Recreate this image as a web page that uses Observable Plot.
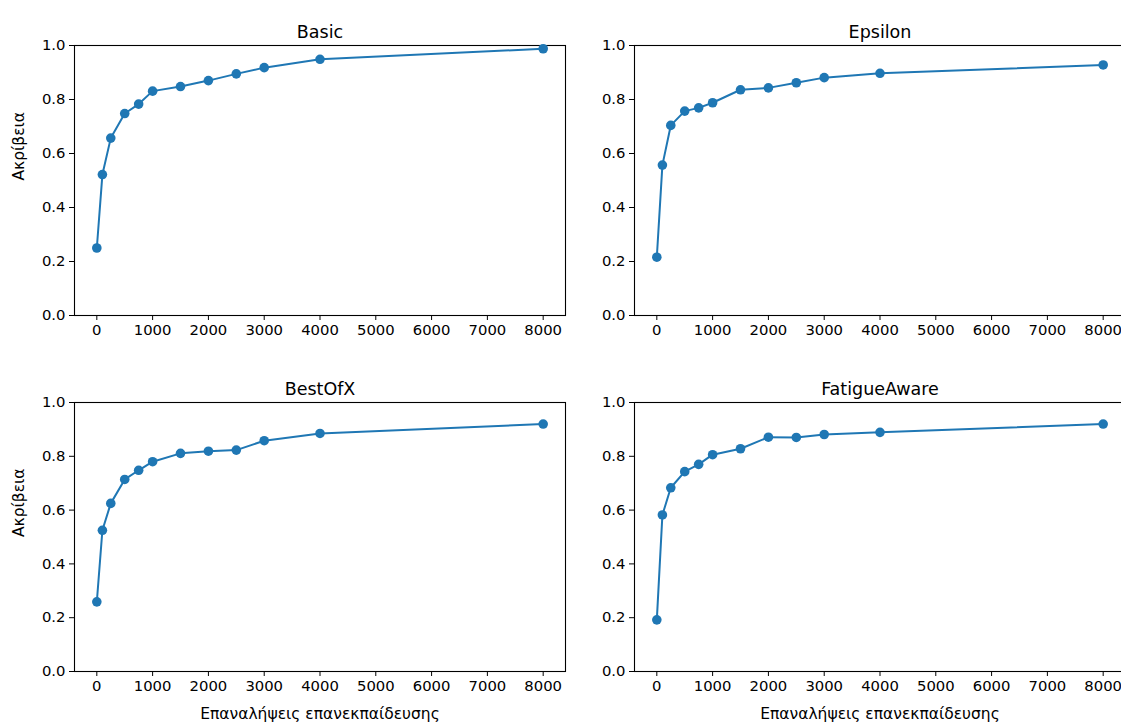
<!DOCTYPE html>
<html>
<head>
<meta charset="utf-8">
<script src="https://cdn.jsdelivr.net/npm/d3@7"></script>
<script src="https://cdn.jsdelivr.net/npm/@observablehq/plot@0.6"></script>
<style>
  html, body { margin: 0; padding: 0; background: #fff; }
  #wrap { position: relative; width: 1121px; height: 722px; overflow: hidden; background: #fff; font-family: "DejaVu Sans", sans-serif; }
  #wrap > div { position: absolute; width: 572px; }
  #wrap svg { max-width: none !important; }
</style>
</head>
<body>
<div id="wrap"></div>
<script>
const iterations = [0, 100, 250, 500, 750, 1000, 1500, 2000, 2500, 3000, 4000, 8000];
const basic   = [0.250, 0.522, 0.657, 0.748, 0.783, 0.831, 0.848, 0.870, 0.895, 0.918, 0.949, 0.988];
const epsilon = [0.216, 0.557, 0.704, 0.757, 0.769, 0.788, 0.836, 0.843, 0.862, 0.881, 0.897, 0.928];
const bestOfX = [0.259, 0.525, 0.625, 0.714, 0.748, 0.780, 0.811, 0.819, 0.823, 0.858, 0.885, 0.920];
const fatigueAware = [0.192, 0.582, 0.683, 0.743, 0.770, 0.806, 0.828, 0.871, 0.870, 0.881, 0.889, 0.920];
const xTicks = [0, 1000, 2000, 3000, 4000, 5000, 6000, 7000, 8000];
const yTicks = [0, 0.2, 0.4, 0.6, 0.8, 1.0];
const yLabel = "Ακρίβεια";
const xLabel = "Επαναλήψεις επανεκπαίδευσης";

const panels = [
  {title: "Basic", values: basic, left: 0, top: 0, bottomRow: false, leftCol: true},
  {title: "Epsilon", values: epsilon, left: 560, top: 0, bottomRow: false, leftCol: false},
  {title: "BestOfX", values: bestOfX, left: 0, top: 357, bottomRow: true, leftCol: true},
  {title: "FatigueAware", values: fatigueAware, left: 560, top: 357, bottomRow: true, leftCol: false}
];

const color = "#1f77b4";
const wrap = document.getElementById("wrap");

for (const p of panels) {
  const data = iterations.map((x, i) => ({x, y: p.values[i]}));
  const marginBottom = p.bottomRow ? 51 : 45;
  const marks = [
    Plot.frame({stroke: "#000", strokeWidth: 1.1}),
    Plot.axisX(xTicks, {tickSize: 5, tickPadding: 4, tickFormat: d3.format("d"), fontSize: 14.8, label: null, stroke: "#000"}),
    Plot.axisY(yTicks, {tickSize: 5, tickPadding: 4, tickFormat: d3.format(".1f"), fontSize: 14.8, label: null, stroke: "#000"}),
    Plot.line(data, {x: "x", y: "y", stroke: color, strokeWidth: 2}),
    Plot.dot(data, {x: "x", y: "y", r: 4.8, fill: color, stroke: null}),
    Plot.text([p.title], {frameAnchor: "top", lineAnchor: "bottom", dy: -8, fontSize: 17.5, fill: "#000"})
  ];
  if (p.leftCol) {
    marks.push(Plot.text([yLabel], {frameAnchor: "left", rotate: -90, dx: -55, fontSize: 15.5, fill: "#000"}));
  }
  if (p.bottomRow) {
    marks.push(Plot.text([xLabel], {frameAnchor: "bottom", lineAnchor: "middle", dy: 43, fontSize: 15.5, fill: "#000"}));
  }
  const chart = Plot.plot({
    width: 572,
    height: 45 + 270 + marginBottom - (p.bottomRow ? 1 : 0),
    marginLeft: 74,
    marginRight: 7,
    marginTop: 45,
    marginBottom: marginBottom,
    style: {fontFamily: "DejaVu Sans, sans-serif", fontSize: "14.8px", color: "#000", background: "transparent", overflow: "visible", maxWidth: "none"},
    x: {domain: [-400, 8400]},
    y: {domain: [0, 1]},
    marks
  });
  const holder = document.createElement("div");
  holder.style.left = p.left + "px";
  holder.style.top = p.top + "px";
  holder.appendChild(chart);
  wrap.appendChild(holder);
}
</script>
</body>
</html>
